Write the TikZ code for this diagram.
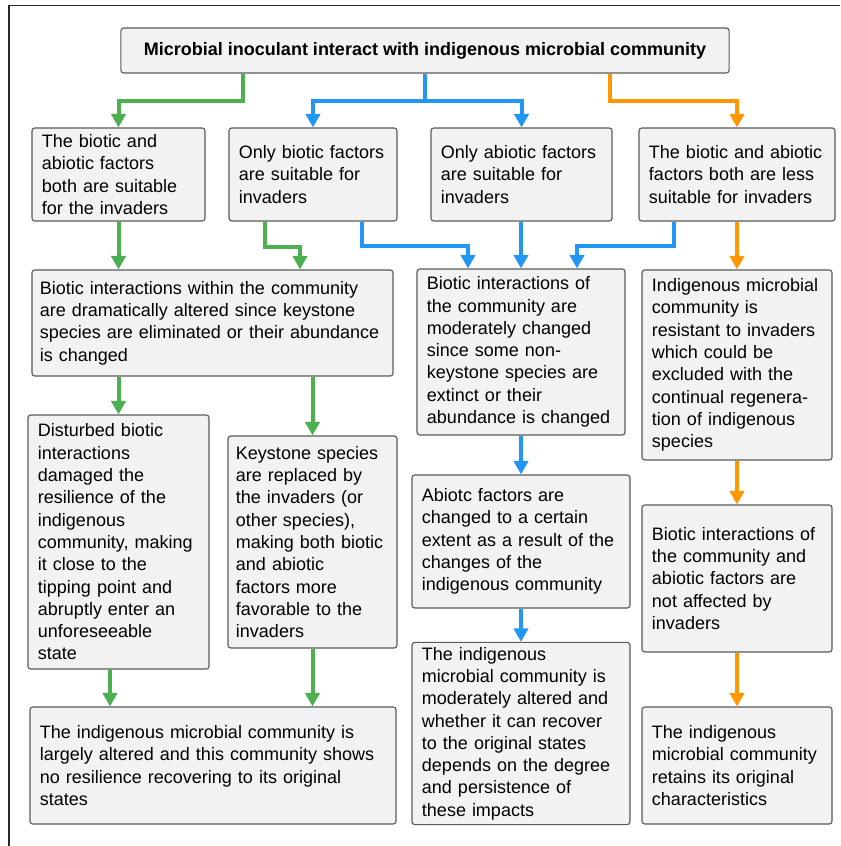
\documentclass[tikz,border=0pt]{standalone}
\usepackage{fontspec}
\setmainfont{Liberation Sans}
\usepackage{tikz}
\usetikzlibrary{arrows.meta, positioning}
\usepackage{xcolor}
\definecolor{boxfill}{HTML}{F2F2F2}
\definecolor{boxline}{HTML}{5A5A5A}
\definecolor{flowgreen}{HTML}{4CAF50}
\definecolor{flowblue}{HTML}{2196F3}
\definecolor{floworange}{HTML}{FF9800}
\tikzset{
	block/.style={draw=boxline, fill=boxfill, line width=0.8pt, rounded corners=2pt,
		inner xsep=0.25cm, align=left, font=\fontsize{12.8pt}{15.85pt}\selectfont},
	title/.style={block, align=center, font=\fontsize{12.8pt}{15.85pt}\selectfont\bfseries},
	flow/.style={line width=0.1cm, -{Triangle[width=0.36cm, length=0.34cm]}},
	greenflow/.style={flow, draw=flowgreen},
	blueflow/.style={flow, draw=flowblue},
	orangeflow/.style={flow, draw=floworange}
}

\begin{document}
\begin{tikzpicture}[x=0.025cm, y=-0.025cm]
		\useasboundingbox (0,0) rectangle (840,846);
		\draw[line width=0.04cm, black!85] (9,846) -- (9,5.5) -- (840,5.5);
		
		\node[title, minimum width=15.2cm, minimum height=1.125cm] (top) at (425,50.5) {Microbial inoculant interact with indigenous microbial community};
		
		\node[block, text width=3.825cm, minimum height=2.325cm] (a1) at (118.5,174.5) {The biotic and\\abiotic factors\\both are suitable\\for the invaders};
		\node[block, text width=3.7cm, minimum height=2.325cm] (a2) at (313,174.5) {Only biotic factors\\are suitable for\\invaders};
		\node[block, text width=4.025cm, minimum height=2.325cm] (a3) at (521.5,174.5) {Only abiotic factors\\are suitable for\\invaders};
		\node[block, text width=4.4cm, minimum height=2.325cm] (a4) at (737,174.5) {The biotic and abiotic\\factors both are less\\suitable for invaders};
		
		\node[block, inner xsep=0.2cm, text width=8.625cm, minimum height=2.65cm] (b1) at (212.5,323) {Biotic interactions within the community\\are dramatically altered since keystone\\species are eliminated or their abundance\\is changed};
		\node[block, text width=4.7cm, minimum height=4.15cm] (b2) at (521,352) {Biotic interactions of\\the community are\\moderately changed\\since some non-\\keystone species are\\extinct or their\\abundance is changed};
		\node[block, text width=4.25cm, minimum height=4.75cm] (b3) at (737,365) {Indigenous microbial\\community is\\resistant to invaders\\which could be\\excluded with the\\continual regenera-\\tion of indigenous\\species};
		
		\node[block, text width=4.025cm, minimum height=6.35cm] (c1) at (118.5,542) {Disturbed biotic\\interactions\\damaged the\\resilience of the\\indigenous\\community, making\\it close to the\\tipping point and\\abruptly enter an\\unforeseeable\\state};
		\node[block, inner xsep=0.2cm, text width=3.825cm, minimum height=5.3cm] (c2) at (312.5,542) {Keystone species\\are replaced by\\the invaders (or\\other species),\\making both biotic\\and abiotic\\factors more\\favorable to the\\invaders};
		\node[block, text width=4.95cm, minimum height=3.325cm] (c3) at (521,541.5) {Abiotc factors are\\changed to a certain\\extent as a result of the\\changes of the\\indigenous community};
		\node[block, text width=4.25cm, minimum height=3.675cm] (c4) at (737,578.5) {Biotic interactions of\\the community and\\abiotic factors are\\not affected by\\invaders};
		
		\node[block, text width=8.65cm, minimum height=2.925cm] (d1) at (213,765.5) {The indigenous microbial community is\\largely altered and this community shows\\no resilience recovering to its original\\states};
		\node[block, text width=4.95cm, minimum height=4.525cm] (d2) at (521,733.5) {The indigenous\\microbial community is\\moderately altered and\\whether it can recover\\to the original states\\depends on the degree\\and persistence of\\these impacts};
		\node[block, text width=4.25cm, minimum height=2.925cm] (d3) at (737,765.5) {The indigenous\\microbial community\\retains its original\\characteristics};
		
		% both factors suitable
		\draw[greenflow] (top.south -| 243,0) -- ++(0,27) -| (a1.north);
		\draw[greenflow] (a1.south) -- (a1.south |- b1.north);
		\draw[greenflow] (a2.south -| 265,0) -- ++(0,25) -| (b1.north -| 300,0);
		\draw[greenflow] (b1.south -| c1.north) -- (c1.north);
		\draw[greenflow] (b1.south -| c2.north) -- (c2.north);
		\draw[greenflow] (c1.south -| 110,0) -- (d1.north -| 110,0);
		\draw[greenflow] (c2.south) -- (c2.south |- d1.north);
		
		% only one kind suitable
		\draw[blueflow] (top.south) -- ++(0,27) -| (a2.north);
		\draw[blueflow] (top.south) -- ++(0,27) -| (a3.north);
		\draw[blueflow] (a2.south -| 362,0) -- ++(0,24) -| (b2.north -| 468,0);
		\draw[blueflow] (a3.south -| b2.north) -- (b2.north);
		\draw[blueflow] (a4.south -| 674,0) -- ++(0,24) -| (b2.north -| 577,0);
		\draw[blueflow] (b2.south) -- (c3.north);
		\draw[blueflow] (c3.south) -- (d2.north);
		
		% less suitable
		\draw[orangeflow] (top.south -| 610,0) -- ++(0,27) -| (a4.north);
		\draw[orangeflow] (a4.south) -- (b3.north);
		\draw[orangeflow] (b3.south) -- (c4.north);
		\draw[orangeflow] (c4.south) -- (d3.north);
	\end{tikzpicture}
\end{document}
